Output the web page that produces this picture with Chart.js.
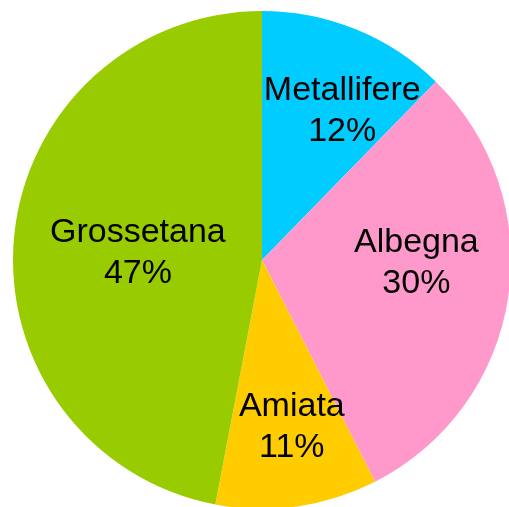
<!DOCTYPE html>
<html>
<head>
<meta charset="utf-8">
<script src="https://cdn.jsdelivr.net/npm/chart.js@4/dist/chart.umd.min.js"></script>
<style>
  html, body { margin: 0; padding: 0; background: #fff; overflow: hidden; }
  #chart { display: block; }
</style>
</head>
<body>
<canvas id="chart" width="520" height="520"></canvas>
<script>
// Zone shares (percent), clockwise from 12 o'clock
const zones = ['Metallifere', 'Albegna', 'Amiata', 'Grossetana'];
const shares = [12.3, 30.2, 10.5, 47.0];
const sliceColors = ['#00CCFF', '#FF99CC', '#FFCC00', '#99CC00'];

// label placement: [fraction of radius, angle shift in degrees]
const labelPlacement = [[0.69, 5.7], [0.62, -8.6], [0.67, -2.2], [0.50, -0.8]];

const total = shares.reduce((s, v) => s + v, 0);

// Draw the two-line labels (name + percent) inside each slice
const sliceLabels = {
  id: 'sliceLabels',
  afterDatasetsDraw(chart) {
    const ctx = chart.ctx;
    const meta = chart.getDatasetMeta(0);
    ctx.save();
    ctx.font = '34px "Liberation Sans", Arial, sans-serif';
    ctx.fillStyle = '#000';
    ctx.textAlign = 'center';
    ctx.textBaseline = 'alphabetic';
    meta.data.forEach((arc, i) => {
      const [frac, shift] = labelPlacement[i];
      const mid = (arc.startAngle + arc.endAngle) / 2 + shift * Math.PI / 180;
      const r = arc.outerRadius * frac;
      const cx = arc.x + Math.cos(mid) * r;
      const cy = arc.y + Math.sin(mid) * r;
      const pct = Math.round(shares[i] / total * 100);
      ctx.fillText(zones[i], cx, cy - 8.5);
      ctx.fillText(pct + '%', cx, cy + 32.5);
    });
    ctx.restore();
  }
};

new Chart(document.getElementById('chart').getContext('2d'), {
  type: 'pie',
  data: {
    labels: zones,
    datasets: [{
      data: shares,
      backgroundColor: sliceColors,
      borderWidth: 0,
      hoverOffset: 0,
    }],
  },
  options: {
    responsive: false,
    animation: false,
    layout: { padding: { left: 13, top: 11, right: 9, bottom: 11 } },
    plugins: {
      legend: { display: false },
      tooltip: { enabled: false },
    },
  },
  plugins: [sliceLabels],
});
</script>
</body>
</html>
